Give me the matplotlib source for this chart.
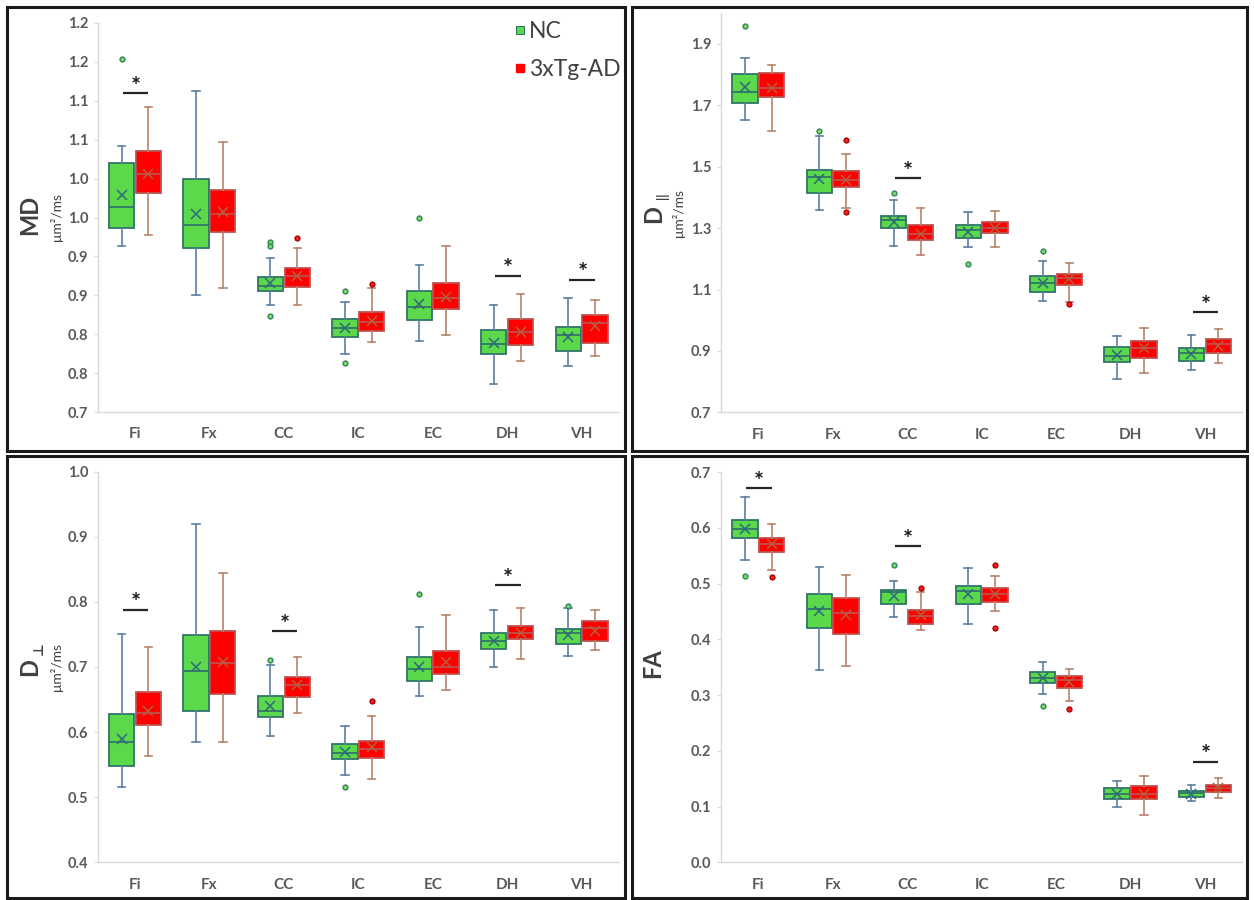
import matplotlib
matplotlib.use("Agg")
import matplotlib.pyplot as plt
from matplotlib.patches import Rectangle
from matplotlib.lines import Line2D

plt.rcParams['font.family'] = ['Lato', 'DejaVu Sans']

REGIONS = ['Fi', 'Fx', 'CC', 'IC', 'EC', 'DH', 'VH']
GROUPS = ['NC', '3xTg-AD']

# rows: [whislo, q1, median, q3, whishi, mean]
MD_NC = [[0.914, 0.937, 0.963, 1.020, 1.042, 0.979],
         [0.850, 0.911, 0.940, 1.000, 1.113, 0.954],
         [0.838, 0.855, 0.862, 0.874, 0.898, 0.866],
         [0.774, 0.797, 0.808, 0.820, 0.842, 0.808],
         [0.791, 0.818, 0.835, 0.855, 0.889, 0.839],
         [0.736, 0.774, 0.787, 0.805, 0.838, 0.789],
         [0.759, 0.778, 0.799, 0.809, 0.846, 0.796]]
MD_AD = [[0.927, 0.982, 1.006, 1.035, 1.092, 1.006],
         [0.860, 0.931, 0.955, 0.985, 1.047, 0.957],
         [0.838, 0.861, 0.875, 0.885, 0.911, 0.875],
         [0.790, 0.804, 0.816, 0.828, 0.859, 0.817],
         [0.799, 0.832, 0.847, 0.866, 0.914, 0.848],
         [0.765, 0.786, 0.803, 0.820, 0.852, 0.803],
         [0.772, 0.789, 0.814, 0.825, 0.844, 0.810]]
MD_NC_OUT = [[1.154], [], [0.918, 0.914, 0.824], [0.856, 0.763], [0.949], [], []]
MD_AD_OUT = [[], [], [0.924], [0.865], [], [], []]
MD_SIG_CAT = ['Fi', 'DH', 'VH']
MD_SIG_Y = [1.110, 0.875, 0.870]
MD_TICKS = [0.70, 0.75, 0.80, 0.85, 0.90, 0.95, 1.00, 1.05, 1.10, 1.15, 1.20]
MD_TICKLABELS = ['0.7', '0.8', '0.8', '0.9', '0.9', '1.0', '1.0', '1.1', '1.1', '1.2', '1.2']

DPAR_NC = [[1.651, 1.709, 1.745, 1.803, 1.855, 1.760],
           [1.359, 1.416, 1.468, 1.490, 1.599, 1.461],
           [1.243, 1.300, 1.327, 1.340, 1.391, 1.321],
           [1.238, 1.267, 1.293, 1.311, 1.351, 1.287],
           [1.063, 1.093, 1.122, 1.144, 1.194, 1.120],
           [0.810, 0.863, 0.884, 0.912, 0.950, 0.888],
           [0.837, 0.868, 0.892, 0.910, 0.952, 0.889]]
DPAR_AD = [[1.615, 1.726, 1.756, 1.807, 1.832, 1.756],
           [1.367, 1.434, 1.457, 1.486, 1.542, 1.457],
           [1.211, 1.262, 1.282, 1.310, 1.367, 1.282],
           [1.238, 1.284, 1.302, 1.320, 1.357, 1.302],
           [1.060, 1.114, 1.137, 1.152, 1.185, 1.134],
           [0.829, 0.876, 0.909, 0.932, 0.975, 0.909],
           [0.861, 0.893, 0.922, 0.939, 0.972, 0.916]]
DPAR_NC_OUT = [[1.960], [1.615], [1.413], [1.183], [1.225], [], []]
DPAR_AD_OUT = [[], [1.586, 1.352], [], [], [1.054], [], []]
DPAR_SIG_CAT = ['CC', 'VH']
DPAR_SIG_Y = [1.462, 1.026]
DPAR_TICKS = [0.7, 0.9, 1.1, 1.3, 1.5, 1.7, 1.9]
DPAR_TICKLABELS = ['0.7', '0.9', '1.1', '1.3', '1.5', '1.7', '1.9']

DPERP_NC = [[0.516, 0.548, 0.585, 0.628, 0.751, 0.590],
            [0.585, 0.632, 0.694, 0.749, 0.920, 0.700],
            [0.594, 0.623, 0.633, 0.656, 0.703, 0.640],
            [0.534, 0.558, 0.568, 0.582, 0.609, 0.570],
            [0.655, 0.679, 0.697, 0.715, 0.762, 0.700],
            [0.700, 0.727, 0.740, 0.752, 0.788, 0.740],
            [0.717, 0.736, 0.752, 0.759, 0.790, 0.749]]
DPERP_AD = [[0.564, 0.611, 0.629, 0.661, 0.730, 0.632],
            [0.585, 0.659, 0.706, 0.755, 0.844, 0.708],
            [0.629, 0.654, 0.672, 0.685, 0.716, 0.673],
            [0.528, 0.560, 0.574, 0.587, 0.624, 0.577],
            [0.665, 0.689, 0.700, 0.725, 0.780, 0.707],
            [0.713, 0.743, 0.752, 0.763, 0.790, 0.752],
            [0.726, 0.740, 0.760, 0.770, 0.787, 0.756]]
DPERP_NC_OUT = [[], [], [0.711], [0.516], [0.812], [], [0.794]]
DPERP_AD_OUT = [[], [], [], [0.648], [], [], []]
DPERP_SIG_CAT = ['Fi', 'CC', 'DH']
DPERP_SIG_Y = [0.788, 0.755, 0.826]
DPERP_TICKS = [0.4, 0.5, 0.6, 0.7, 0.8, 0.9, 1.0]
DPERP_TICKLABELS = ['0.4', '0.5', '0.6', '0.7', '0.8', '0.9', '1.0']

FA_NC = [[0.542, 0.582, 0.597, 0.614, 0.655, 0.597],
         [0.345, 0.420, 0.455, 0.481, 0.529, 0.450],
         [0.440, 0.464, 0.485, 0.489, 0.505, 0.478],
         [0.427, 0.464, 0.486, 0.495, 0.528, 0.481],
         [0.301, 0.322, 0.331, 0.341, 0.360, 0.330],
         [0.099, 0.113, 0.122, 0.133, 0.146, 0.123],
         [0.110, 0.117, 0.124, 0.128, 0.139, 0.123]]
FA_AD = [[0.525, 0.556, 0.570, 0.582, 0.607, 0.570],
         [0.352, 0.409, 0.447, 0.474, 0.516, 0.444],
         [0.416, 0.427, 0.442, 0.452, 0.484, 0.444],
         [0.451, 0.467, 0.482, 0.492, 0.514, 0.481],
         [0.290, 0.313, 0.327, 0.335, 0.347, 0.324],
         [0.084, 0.113, 0.123, 0.137, 0.154, 0.123],
         [0.116, 0.126, 0.133, 0.138, 0.151, 0.133]]
FA_NC_OUT = [[0.513], [], [0.534], [], [0.280], [], []]
FA_AD_OUT = [[0.512], [], [0.492], [0.533, 0.420], [0.275], [], []]
FA_SIG_CAT = ['Fi', 'CC', 'VH']
FA_SIG_Y = [0.671, 0.567, 0.180]
FA_TICKS = [0.0, 0.1, 0.2, 0.3, 0.4, 0.5, 0.6, 0.7]
FA_TICKLABELS = ['0.0', '0.1', '0.2', '0.3', '0.4', '0.5', '0.6', '0.7']

# ---------------- styling ----------------
W, H = 1254, 900
NC_FILL, NC_EDGE, NC_WHISK, NC_MEAN = '#5cd94a', '#2f7568', '#5b7fa3', '#2d6a7c'
AD_FILL, AD_EDGE, AD_WHISK, AD_MEAN = '#ff0000', '#c0504d', '#b8846a', '#b4603c'
TICK_COLOR = '#595959'
AX_COLOR = '#d9d9d9'

fig = plt.figure(figsize=(W / 100, H / 100), dpi=100)


def fx(px):
    return px / W


def fy(py):
    return 1 - py / H


def make_stats(rows, outs):
    stats = []
    for r, o in zip(rows, outs):
        stats.append(dict(whislo=r[0], q1=r[1], med=r[2], q3=r[3], whishi=r[4],
                          mean=r[5], fliers=o))
    return stats


def draw_panel(rect_px, ylim, nc, ad, nc_out, ad_out, sig_cat, sig_y, ticks, ticklabels):
    x0, ytop, x1, ybot = rect_px
    ax = fig.add_axes([fx(x0), fy(ybot), fx(x1 - x0), (ybot - ytop) / H])
    pos = list(range(len(REGIONS)))
    off = 0.18
    width = 0.34
    for rows, outs, sgn, fill, edge, whisk, meanc, fl_face, fl_edge in [
        (nc, nc_out, -1, NC_FILL, NC_EDGE, NC_WHISK, NC_MEAN, '#6fdc5a', '#2e7d5b'),
        (ad, ad_out, +1, AD_FILL, AD_EDGE, AD_WHISK, AD_MEAN, '#ff1a1a', '#a00000')]:
        ax.bxp(make_stats(rows, outs), positions=[p + sgn * off for p in pos],
               widths=width, patch_artist=True, showmeans=True, capwidths=0.1,
               boxprops=dict(facecolor=fill, edgecolor=edge, linewidth=1.3),
               medianprops=dict(color=edge, linewidth=1.3),
               whiskerprops=dict(color=whisk, linewidth=1.2),
               capprops=dict(color=whisk, linewidth=1.2),
               meanprops=dict(marker='x', markeredgecolor=meanc, markersize=7,
                              markeredgewidth=1.1, linestyle='none'),
               flierprops=dict(marker='o', markerfacecolor=fl_face, markeredgecolor=fl_edge,
                               markersize=3.6, markeredgewidth=0.9, linestyle='none'))
    for cat, yv in zip(sig_cat, sig_y):
        i = REGIONS.index(cat)
        ax.plot([i - 0.165, i + 0.18], [yv, yv], color='#262626', lw=1.6,
                solid_capstyle='butt', clip_on=False)
        ax.annotate('*', xy=(i + 0.01, yv), xytext=(0, -4), textcoords='offset points',
                    ha='center', va='bottom', fontsize=17, fontweight='bold',
                    color='#1a1a1a', annotation_clip=False)
    ax.set_xlim(-0.5, len(REGIONS) - 0.5)
    ax.set_ylim(*ylim)
    ax.set_xticks(pos)
    ax.set_xticklabels(REGIONS)
    ax.set_yticks(ticks)
    ax.set_yticklabels(ticklabels)
    for s in ['top', 'right']:
        ax.spines[s].set_visible(False)
    for s in ['left', 'bottom']:
        ax.spines[s].set_color(AX_COLOR)
        ax.spines[s].set_linewidth(1.0)
    ax.tick_params(axis='y', length=3, color=AX_COLOR, pad=4, labelsize=10.5,
                   labelcolor=TICK_COLOR)
    ax.tick_params(axis='x', length=0, pad=11, labelsize=11, labelcolor=TICK_COLOR)
    for lab in ax.get_xticklabels() + ax.get_yticklabels():
        lab.set_fontweight('bold')
    ax.patch.set_alpha(0)
    return ax


ax_md = draw_panel((97.8, 23, 618.8, 412), (0.70, 1.20), MD_NC, MD_AD, MD_NC_OUT, MD_AD_OUT,
                   MD_SIG_CAT, MD_SIG_Y, MD_TICKS, MD_TICKLABELS)
ax_dp = draw_panel((721.1, 13.3, 1242.1, 412.3), (0.7, 2.0), DPAR_NC, DPAR_AD, DPAR_NC_OUT,
                   DPAR_AD_OUT, DPAR_SIG_CAT, DPAR_SIG_Y, DPAR_TICKS, DPAR_TICKLABELS)
ax_dr = draw_panel((97.8, 471.7, 618.8, 862.3), (0.4, 1.0), DPERP_NC, DPERP_AD, DPERP_NC_OUT,
                   DPERP_AD_OUT, DPERP_SIG_CAT, DPERP_SIG_Y, DPERP_TICKS, DPERP_TICKLABELS)
ax_fa = draw_panel((721.1, 472, 1242.1, 862.3), (0.0, 0.7), FA_NC, FA_AD, FA_NC_OUT,
                   FA_AD_OUT, FA_SIG_CAT, FA_SIG_Y, FA_TICKS, FA_TICKLABELS)

# ---------------- y labels ----------------
LAB = '#404040'
UNIT = 'μm²/ms'
fig.text(fx(30), fy(215), 'MD', rotation=90, ha='center', va='center', fontsize=17,
         fontweight='bold', color=LAB)
fig.text(fx(56), fy(217), UNIT, rotation=90, ha='center', va='center', fontsize=10, color=LAB)

fig.text(fx(654), fy(214), 'D', rotation=90, ha='center', va='center', fontsize=17,
         fontweight='bold', color=LAB)
fig.text(fx(663), fy(196), '||', rotation=90, ha='center', va='center', fontsize=9,
         fontweight='bold', color=LAB)
fig.text(fx(679), fy(213), UNIT, rotation=90, ha='center', va='center', fontsize=10, color=LAB)

fig.text(fx(30), fy(667), 'D', rotation=90, ha='center', va='center', fontsize=17,
         fontweight='bold', color=LAB)
fig.text(fx(39), fy(649), '⊥', rotation=90, ha='center', va='center', fontsize=10,
         fontweight='bold', color=LAB, family=['DejaVu Sans'])
fig.text(fx(56), fy(667), UNIT, rotation=90, ha='center', va='center', fontsize=10, color=LAB)

fig.text(fx(653), fy(663), 'FA', rotation=90, ha='center', va='center', fontsize=17,
         fontweight='bold', color=LAB)

# ---------------- legend ----------------
handles = [Line2D([], [], marker='s', linestyle='none', markersize=6,
                  markerfacecolor=NC_FILL, markeredgecolor=NC_EDGE, markeredgewidth=0.8),
           Line2D([], [], marker='s', linestyle='none', markersize=6,
                  markerfacecolor=AD_FILL, markeredgecolor=AD_FILL)]
fig.legend(handles, GROUPS, loc='upper left', bbox_to_anchor=(fx(513), fy(21)),
           frameon=False, fontsize=16.5, handlelength=0.6, handletextpad=0.1,
           labelspacing=0.75, labelcolor='#404040', borderaxespad=0, borderpad=0)

# ---------------- panel borders ----------------
for (px0, py0, px1, py1) in [(7, 7, 625, 451), (632, 7, 1247, 451),
                             (7, 456, 625, 898), (632, 456, 1247, 898)]:
    fig.add_artist(Rectangle((fx(px0), fy(py1)), fx(px1 - px0), (py1 - py0) / H,
                             transform=fig.transFigure, fill=False, edgecolor='#1a1a1a',
                             linewidth=2.2))

fig.savefig('out.png', dpi=100)
